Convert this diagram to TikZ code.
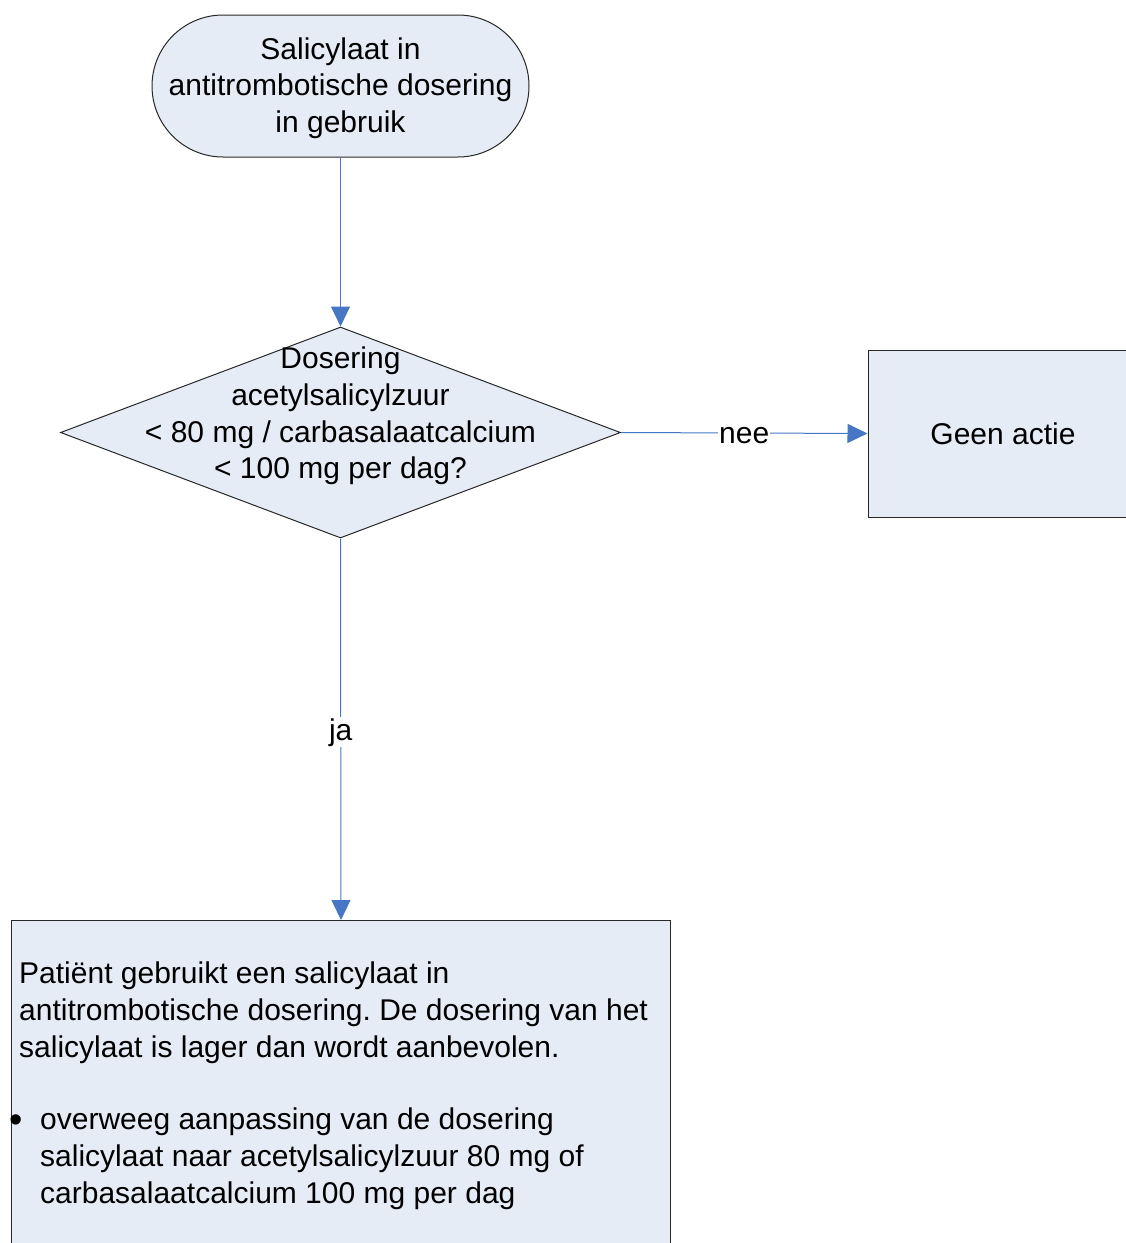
\documentclass[tikz,border=0pt]{standalone}
\usepackage{fontspec}
\setmainfont{Liberation Sans}
\usetikzlibrary{shapes.geometric,arrows.meta}
\definecolor{boxfill}{RGB}{230,236,246}
\definecolor{arrowblue}{RGB}{70,118,196}
\definecolor{edgegray}{RGB}{40,40,40}
\frenchspacing
\begin{document}
\begin{tikzpicture}[x=1pt,y=-1pt,
  every node/.style={font=\fontsize{30}{36.7}\selectfont},
  shapebox/.style={draw=edgegray, fill=boxfill, line width=1pt, inner sep=0pt},
  flow/.style={draw=arrowblue, line width=1pt, -{Triangle[length=20pt,width=19pt]}},
  lbl/.style={fill=white, inner sep=1pt, yshift=-3pt}]
\useasboundingbox (0,0) rectangle (1126,1243);
\clip (0,0) rectangle (1126,1243);
\node[shapebox, rounded corners=71pt, minimum width=377pt, minimum height=142pt] (start) at (340.5,86) {};
\node[align=center, inner sep=0pt] (starttext) at (340.5,88) {Salicylaat in\\antitrombotische dosering\\in gebruik};
\node[shapebox, diamond, minimum width=560pt, minimum height=211pt] (dec) at (340.5,432.5) {};
\node[align=center, inner sep=0pt] (dectext) at (340.5,416) {Dosering\\acetylsalicylzuur\\< 80 mg / carbasalaatcalcium\\< 100 mg per dag?};
\node[shapebox, minimum width=270pt, minimum height=167pt] (geen) at (1003,433.5) {};
\node[inner sep=0pt] (geentext) at (1003,434) {Geen actie};
\node[shapebox, anchor=north west, minimum width=659pt, minimum height=400pt] (advice) at (11,920) {};
\node[anchor=base west, align=left, inner sep=0pt] (advtext) at (19,1057) {Patiënt gebruikt een salicylaat in\\antitrombotische dosering. De dosering van het\\salicylaat is lager dan wordt aanbevolen.};
\node[anchor=base west, inner sep=0pt, font=\fontsize{38}{38}\selectfont] (bullet) at (9,1132) {\textbullet};
\node[anchor=base west, align=left, inner sep=0pt] (bultext) at (40,1203) {overweeg aanpassing van de dosering\\salicylaat naar acetylsalicylzuur 80 mg of\\carbasalaatcalcium 100 mg per dag};
\draw[flow] (start.south) -- (dec.north);
\draw[flow] (dec.east) -- node[lbl] (nee) {nee} (geen.west);
\draw[flow] (dec.south) -- node[lbl] (ja) {ja} (advice.north);
\end{tikzpicture}
\end{document}
